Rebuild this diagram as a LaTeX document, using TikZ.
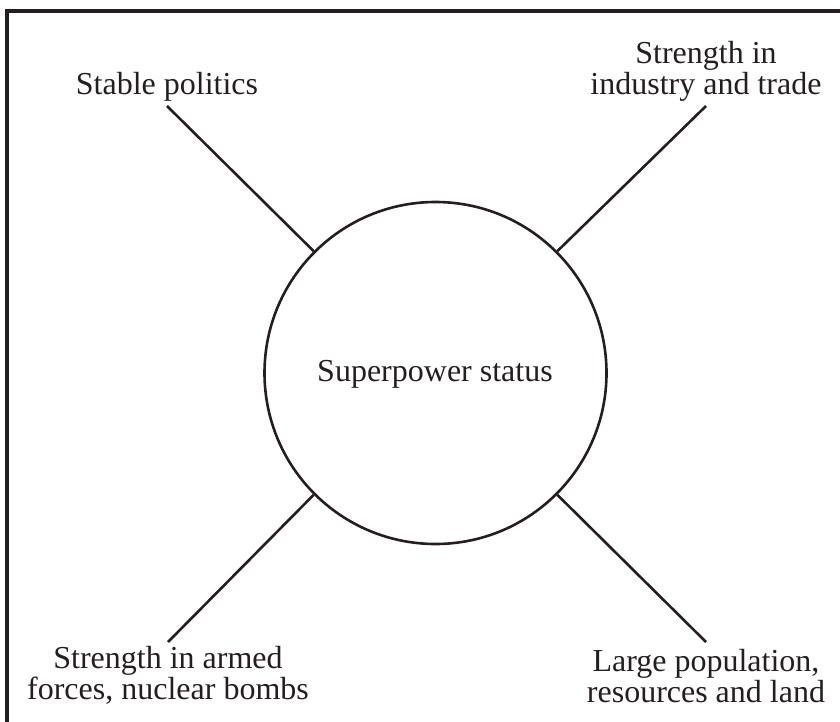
\documentclass[tikz,border=0pt]{standalone}
\usepackage{fontspec}
\setmainfont{Liberation Serif}
\definecolor{inkgray}{HTML}{231F20}

\begin{document}
\begin{tikzpicture}[x=1pt, y=-1pt, font=\fontsize{32}{31}\selectfont, inkgray,
	lbl/.style={align=center, inner sep=4pt},
	spoke/.style={line width=2.6pt}]
	\useasboundingbox (0,0) rectangle (840,722);
	%frame
	\draw[line width=3.2pt] (840,11) -- (7,11) -- (7,722);
	%circle
	\node[circle, draw, line width=2.6pt, minimum size=342pt, inner sep=0pt] (super) at (435.5,373) {};
	\node at (435,374) {Superpower status};
	%labels
	\node[lbl, anchor=south] (pol) at (167,106) {Stable politics};
	\node[lbl, anchor=south] (ind) at (706,106) {Strength in\\industry and trade};
	\node[lbl, anchor=north] (arm) at (168,642) {Strength in armed\\forces, nuclear bombs};
	\node[lbl, anchor=north, inner sep=7pt] (pop) at (706,642) {Large population,\\resources and land};
	%lines
	\draw[spoke] (super.135) -- (pol.south);
	\draw[spoke] (super.45) -- (ind.south);
	\draw[spoke] (super.225) -- (arm.north);
	\draw[spoke] (super.-45) -- (pop.north);
\end{tikzpicture}
\end{document}
